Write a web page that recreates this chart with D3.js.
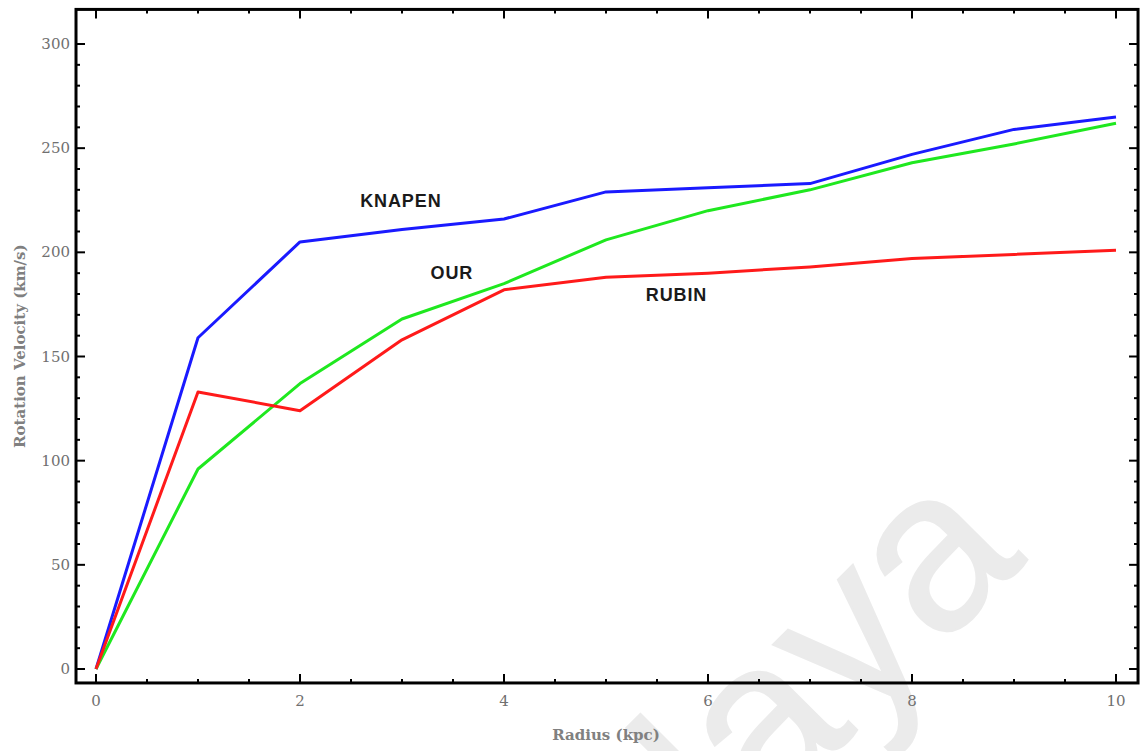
<!DOCTYPE html>
<html><head><meta charset="utf-8">
<script src="https://cdn.jsdelivr.net/npm/d3@7"></script>
<style>body{margin:0;background:#fff}svg{display:block}</style>
</head><body>
<svg id="c" width="1144" height="751"></svg>
<script>
const radius = [0,1,2,3,4,5,6,7,8,9,10];
const knapen = [0,159,205,211,216,229,231,233,247,259,265];
const rubin  = [0,133,124,158,182,188,190,193,197,199,201];
const our    = [0,96,137,168,185,206,220,230,243,252,262];
const xTicks = [0,2,4,6,8,10];
const yTicks = [0,50,100,150,200,250,300];
const seriesNames = ["KNAPEN","OUR","RUBIN"];
const labelPos = [[2.59,222],[3.28,187],[5.39,176.5]];

const svg = d3.select("#c");
const x = d3.scaleLinear().domain([0,10]).range([96,1116]);
const y = d3.scaleLinear().domain([0,300]).range([669,44]);
const xMin=-0.196, xMax=10.216, yMin=-6.7, yMax=316.6;

// watermark
svg.append("text").attr("transform","translate(1028,560) rotate(-45)")
  .attr("text-anchor","end").attr("font-family","Liberation Sans, Arial, sans-serif")
  .attr("font-size",228).attr("fill","#ebebeb").attr("stroke","#ebebeb").attr("stroke-width",2).text("Malaya");

const L=x(xMin),R=x(xMax),T=y(yMax),B=y(yMin);

const line = d3.line().x((d,i)=>x(radius[i])).y(d=>y(d));
const series=[[knapen,"#1a1aff"],[our,"#1fe81f"],[rubin,"#ff1a1a"]];
series.forEach(([d,c])=>{
  svg.append("path").attr("d",line(d)).attr("fill","none").attr("stroke",c).attr("stroke-width",3).attr("stroke-linejoin","round");
});

// frame ticks
const g=svg.append("g").attr("stroke","#000");
const xMinor=d3.range(0,10.01,0.5), yMinor=d3.range(0,301,10);
xMinor.forEach(v=>{
  const len = (v%2===0)?9:4;
  g.append("line").attr("x1",x(v)).attr("x2",x(v)).attr("y1",B).attr("y2",B-len).attr("stroke-width",2);
  g.append("line").attr("x1",x(v)).attr("x2",x(v)).attr("y1",T).attr("y2",T+len).attr("stroke-width",2);
});
yMinor.forEach(v=>{
  const len = (v%50===0)?9:4;
  g.append("line").attr("y1",y(v)).attr("y2",y(v)).attr("x1",L).attr("x2",L+len).attr("stroke-width",2);
  g.append("line").attr("y1",y(v)).attr("y2",y(v)).attr("x1",R).attr("x2",R-len).attr("stroke-width",2);
});
svg.append("rect").attr("x",L).attr("y",T).attr("width",R-L).attr("height",B-T)
  .attr("fill","none").attr("stroke","#000").attr("stroke-width",3);

const tf="DejaVu Serif, serif";
xTicks.forEach(v=>{
  svg.append("text").attr("x",x(v)).attr("y",706).attr("text-anchor","middle")
    .attr("font-family",tf).attr("font-size",15).attr("fill","#707070").text(v);
});
yTicks.forEach(v=>{
  svg.append("text").attr("x",70).attr("y",y(v)+5).attr("text-anchor","end")
    .attr("font-family",tf).attr("font-size",15).attr("fill","#707070").text(v);
});
svg.append("text").attr("x",606).attr("y",740).attr("text-anchor","middle")
  .attr("font-family",tf).attr("font-size",15).attr("font-weight","bold").attr("fill","#808080").text("Radius (kpc)");
svg.append("text").attr("transform",`translate(25,${(T+B)/2}) rotate(-90)`).attr("text-anchor","middle")
  .attr("font-family",tf).attr("font-size",15).attr("font-weight","bold").attr("fill","#808080").text("Rotation Velocity (km/s)");

seriesNames.forEach((n,i)=>{
  svg.append("text").attr("x",x(labelPos[i][0])).attr("y",y(labelPos[i][1]))
    .attr("font-family","Liberation Sans, Arial, sans-serif").attr("font-weight","bold")
    .attr("font-size",18).attr("letter-spacing",0.9).attr("fill","#1a1a1a").text(n);
});
</script>
</body></html>
